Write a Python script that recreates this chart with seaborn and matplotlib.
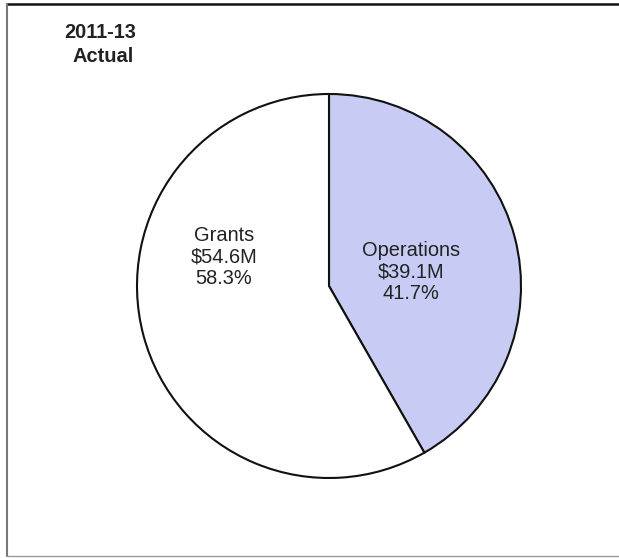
import matplotlib
matplotlib.use("Agg")
import matplotlib.pyplot as plt
from matplotlib.lines import Line2D
import seaborn as sns

# Biennium spending split
categories = ["Operations", "Grants"]
amounts_musd = [39.1, 54.6]
slice_colors = ["#c8ccf4", "#ffffff"]
period_title = ["2011-13", "Actual"]

sns.set_theme(style="white")
plt.rcParams["font.family"] = ["Liberation Sans", "DejaVu Sans"]

W, H = 619, 558
fig = plt.figure(figsize=(W / 100, H / 100), dpi=100)
fig.patch.set_facecolor("white")

# Square axes box holding a unit-radius pie
cx, cy, r = 329, 286, 192
ax = fig.add_axes([(cx - r) / W, (H - cy - r) / H, 2 * r / W, 2 * r / H])
wedges, _ = ax.pie(
    amounts_musd,
    colors=slice_colors,
    startangle=90,
    counterclock=False,
    radius=1.0,
    wedgeprops=dict(edgecolor="#111111", linewidth=1.5),
)
for w in wedges:
    w.set_clip_on(False)
ax.set_xlim(-1, 1)
ax.set_ylim(-1, 1)
ax.axis("off")

total = sum(amounts_musd)
label_pos = {"Operations": (0.427, 0.073), "Grants": (-0.547, 0.151)}
for name, amt in zip(categories, amounts_musd):
    x, y = label_pos[name]
    ax.text(x, y, f"{name}\n${amt:.1f}M\n{amt / total * 100:.1f}%",
            ha="center", va="center", fontsize=14.4, color="#222222",
            linespacing=1.15)

# Period heading
fig.text(100 / W, 1 - 32 / H, period_title[0], ha="center", va="center",
         fontsize=14.4, fontweight="bold", color="#222222")
fig.text(103 / W, 1 - 57 / H, period_title[1], ha="center", va="center",
         fontsize=14.4, fontweight="bold", color="#222222")

# Frame around the chart
fig.add_artist(Line2D([7 / W, 1.0], [1 - 4 / H, 1 - 4 / H], transform=fig.transFigure,
                      color="#111111", linewidth=1.8))
fig.add_artist(Line2D([7 / W, 7 / W], [1 - 4 / H, 1 - 556 / H], transform=fig.transFigure,
                      color="#777777", linewidth=1.5))
fig.add_artist(Line2D([7 / W, 1.0], [1 - 556 / H, 1 - 556 / H], transform=fig.transFigure,
                      color="#999999", linewidth=1.0))

fig.savefig("out.png", dpi=100, facecolor="white")
